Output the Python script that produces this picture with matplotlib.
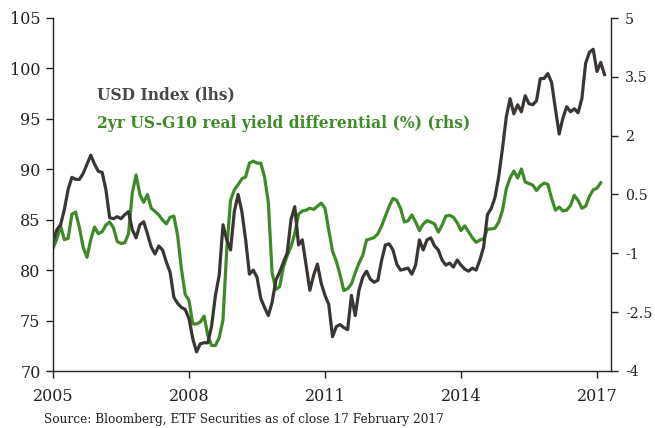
import numpy as np
import pandas as pd
import matplotlib
matplotlib.use("Agg")
import matplotlib.pyplot as plt

# ---- data (monthly, from Jan 2005) ----
usd_index = [
    82.8, 84.0, 84.5, 86.0, 88.0, 89.2, 89.0, 89.0, 89.6, 90.5, 91.4, 90.5,
    89.8, 89.7, 88.0, 85.2, 85.1, 85.3, 85.1, 85.5, 85.8, 84.0, 83.2, 84.5,
    84.8, 83.6, 82.3, 81.6, 82.4, 82.0, 80.8, 79.8, 77.3, 76.7, 76.3, 76.1,
    75.2, 73.2, 71.9, 72.7, 72.8, 72.8, 74.5, 77.5, 79.5, 84.5, 83.0, 82.0,
    85.8, 87.5, 85.8, 83.0, 79.6, 80.0, 79.3, 77.2, 76.3, 75.5, 76.8, 79.0,
    79.8, 80.8, 81.7, 85.0, 86.3, 82.5, 83.0, 80.5, 78.0, 79.5, 80.6, 78.7,
    77.5, 76.6, 73.4, 74.4, 74.6, 74.3, 74.1, 77.5, 75.5, 78.0, 79.3, 79.9,
    79.1, 78.8, 79.0, 81.0, 82.5, 82.6, 82.0, 80.6, 80.0, 80.1, 80.2, 79.6,
    80.5, 83.0, 82.0, 83.0, 83.2, 82.4, 82.0, 81.0, 80.5, 80.7, 80.3, 81.0,
    80.5, 80.1, 79.9, 80.2, 80.0, 81.0, 82.3, 85.5, 86.1, 87.2, 89.3, 92.1,
    95.2, 97.0, 95.5, 96.4, 95.7, 97.3, 96.5, 96.4, 96.8, 99.0, 99.0, 99.5,
    98.6, 96.0, 93.5, 95.1, 96.2, 95.7, 96.0, 95.6, 97.0, 100.5, 101.6, 101.9,
    99.7, 100.6, 99.4,
]

yield_diff = [
    -0.87, -0.64, -0.30, -0.65, -0.62, 0.00, 0.05, -0.35, -0.85, -1.10, -0.65, -0.33,
    -0.50, -0.45, -0.28, -0.20, -0.35, -0.70, -0.75, -0.73, -0.50, 0.55, 1.00, 0.50,
    0.30, 0.50, 0.15, 0.07, -0.02, -0.15, -0.25, -0.08, -0.05, -0.55, -1.40, -2.05,
    -2.20, -2.80, -2.80, -2.75, -2.60, -3.10, -3.35, -3.35, -3.15, -2.70, -0.90, 0.35,
    0.62, 0.75, 0.90, 0.95, 1.30, 1.35, 1.30, 1.30, 0.95, 0.30, -1.50, -1.92,
    -1.85, -1.35, -1.06, -0.83, -0.50, 0.00, 0.08, 0.10, 0.15, 0.12, 0.20, 0.28,
    0.15, -0.40, -0.95, -1.20, -1.55, -1.95, -1.90, -1.78, -1.50, -1.25, -1.05, -0.66,
    -0.63, -0.60, -0.50, -0.30, -0.05, 0.20, 0.40, 0.35, 0.15, -0.20, -0.17, -0.02,
    -0.20, -0.42, -0.25, -0.17, -0.20, -0.25, -0.46, -0.28, -0.05, -0.03, -0.08, -0.22,
    -0.42, -0.30, -0.45, -0.60, -0.72, -0.66, -0.63, -0.38, -0.38, -0.36, -0.20, 0.10,
    0.65, 0.92, 1.10, 0.92, 1.15, 0.82, 0.78, 0.74, 0.60, 0.72, 0.79, 0.76,
    0.40, 0.10, 0.18, 0.08, 0.10, 0.22, 0.48, 0.35, 0.15, 0.20, 0.45, 0.62,
    0.66, 0.80,
]

x_ticks = [2005, 2008, 2011, 2014, 2017]
left_ticks = [70, 75, 80, 85, 90, 95, 100, 105]
right_ticks = [-4, -2.5, -1, 0.5, 2, 3.5, 5]
right_labels = ["-4", "-2.5", "-1", "0.5", "2", "3.5", "5"]

label_usd = "USD Index (lhs)"
label_diff = "2yr US-G10 real yield differential (%) (rhs)"
source = "Source: Bloomberg, ETF Securities as of close 17 February 2017"

# ---- positions ----
dates = pd.date_range("2005-01-01", periods=len(usd_index), freq="MS")
t_usd = dates.year + (dates.month - 1) / 12.0
t_diff = t_usd[:len(yield_diff)]

BLACK = "#3a3634"
GREEN = "#3f8a28"
FONT = "DejaVu Serif"
plt.rcParams["font.family"] = [FONT]

fig = plt.figure(figsize=(6.55, 4.28), dpi=100)
ax = fig.add_axes([53 / 655, 1 - 371 / 428, (611 - 53) / 655, (371 - 18) / 428])
ax2 = ax.twinx()

ax.plot(t_usd, usd_index, color=BLACK, lw=2.3, solid_joinstyle="round", zorder=3)
ax2.plot(t_diff, yield_diff, color=GREEN, lw=2.3, solid_joinstyle="round", zorder=2)
ax.set_zorder(ax2.get_zorder() + 1)
ax.patch.set_visible(False)

ax.set_xlim(2005, 2005 + (611 - 53) / 45.33)
ax.set_ylim(70, 105)
ax2.set_ylim(-4, 5)

ax.set_xticks(x_ticks)
ax.set_xticklabels([str(v) for v in x_ticks])
ax.set_yticks(left_ticks)
ax2.set_yticks(right_ticks)
ax2.set_yticklabels(right_labels)

for a in (ax, ax2):
    a.spines["top"].set_visible(False)
    for s in ("left", "right", "bottom"):
        a.spines[s].set_color("#222222")
        a.spines[s].set_linewidth(1.0)
    a.tick_params(direction="out", length=5, width=1, color="#222222",
                  labelsize=11.5, labelcolor="#222222")
ax.spines["right"].set_visible(False)
ax2.spines["left"].set_visible(False)
ax2.spines["bottom"].set_visible(False)
ax.tick_params(axis="y", pad=4)
ax.tick_params(axis="x", pad=7)
ax2.tick_params(axis="y", pad=5, labelsize=10.2)

fig.text(97 / 655, 1 - 95 / 428, label_usd, color="#4a4646", fontsize=11.2,
         fontweight="bold", va="center", ha="left")
fig.text(97 / 655, 1 - 123 / 428, label_diff, color=GREEN, fontsize=11.2,
         fontweight="bold", va="center", ha="left")
fig.text(44 / 655, 1 - 420 / 428, source, color="#222222", fontsize=8.7,
         va="center", ha="left")

fig.savefig("out.png", dpi=100)
